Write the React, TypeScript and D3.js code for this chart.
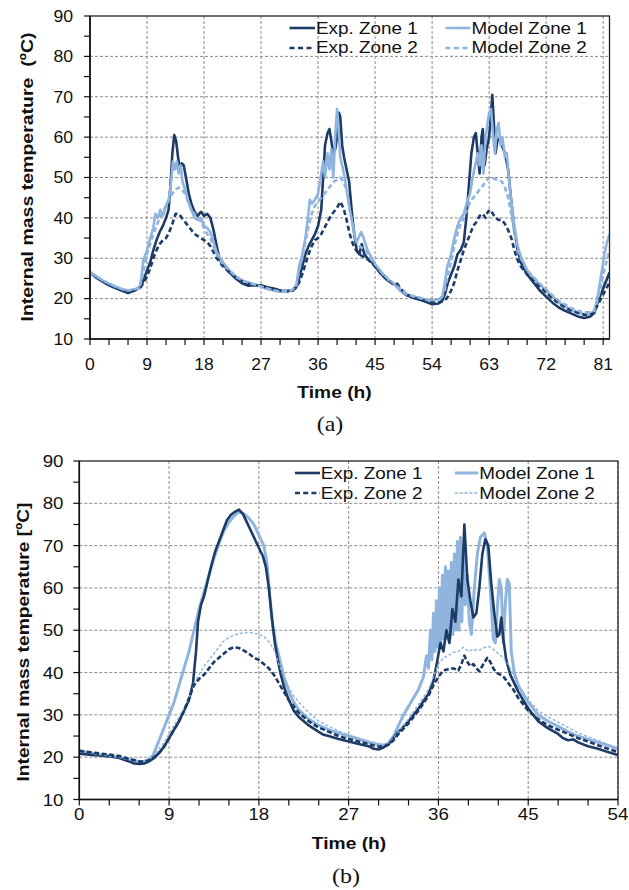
import { useEffect, useRef } from 'react';
import * as d3 from 'd3';

type Pt = [number, number];

// ---------- panel (a): 82 h test ----------
const expZone1A: Pt[] = [
  [0, 26.5], [1, 25.2], [2, 24.2], [3, 23.3], [4, 22.6], [5, 22.0], [6, 21.4], [7, 22.0], [7.8, 22.8], [8.3, 24],
  [9, 27], [9.5, 29], [10, 32], [10.5, 34.5], [11, 36.5], [11.5, 38], [12, 40], [12.4, 42], [12.7, 48], [13, 56],
  [13.3, 60.5], [13.6, 59], [13.9, 55], [14.2, 52], [14.5, 53.5], [14.8, 53], [15.2, 49.5], [15.6, 46], [16, 43.5],
  [16.5, 41.5], [17, 40.5], [17.5, 41.5], [18, 40.5], [18.5, 41], [19, 40], [19.5, 37], [20, 33], [20.5, 29.5],
  [21, 28.5], [22, 26.5], [23, 25], [24, 23.8], [25, 23.2], [26, 23.3], [27, 23.3], [28, 22.8], [29, 22.5], [30, 22],
  [31, 21.8], [32, 22], [32.6, 23], [33, 25], [33.5, 28], [34, 31], [34.5, 33], [35, 34.5], [35.5, 36], [36, 38],
  [36.5, 42], [36.8, 50], [37.1, 58], [37.5, 61], [37.8, 62], [38.1, 59], [38.4, 56], [38.7, 57], [39, 60], [39.3, 66],
  [39.5, 65], [39.8, 58], [40.1, 55], [40.5, 52], [40.9, 49], [41.3, 42], [41.7, 36], [42.1, 32], [42.5, 31],
  [42.9, 33.5], [43.3, 31], [43.8, 30], [44.5, 29], [45, 28], [46, 26], [47, 24.5], [48, 23.5], [48.5, 23.5], [49, 22],
  [50, 20.8], [51, 20.2], [52, 19.8], [53, 19.2], [54, 18.6], [55, 18.8], [55.6, 19.5], [56, 21], [56.5, 24], [57, 26],
  [57.5, 28], [58, 31], [58.5, 32], [59, 34], [59.4, 40], [59.8, 48], [60.2, 56], [60.6, 60], [60.9, 61], [61.2, 56],
  [61.5, 51], [61.8, 60], [62.0, 62], [62.3, 53], [62.6, 57], [63.0, 60], [63.3, 66], [63.5, 70.5], [63.8, 62],
  [64.0, 56], [64.3, 59], [64.7, 60], [65.0, 58], [65.5, 56], [66, 52], [66.5, 44], [67, 37], [67.5, 32], [68, 29],
  [69, 26], [70, 24], [71, 22], [72, 20.5], [73, 19], [74, 17.8], [75, 17], [76, 16.3], [77, 15.6], [78, 15.2],
  [79, 15.6], [79.6, 16.5], [80, 18.5], [80.5, 20.5], [81, 22.5], [81.5, 24.5], [82, 26.5],
];

const modelZone1A: Pt[] = [
  [0, 26.5], [1, 25.5], [2, 24.5], [3, 23.7], [4, 23], [5, 22.4], [6, 22], [7, 22.3], [7.8, 22.5], [8.1, 25],
  [8.4, 29.5], [9, 32], [9.5, 35], [10, 37.5], [10.3, 41], [10.7, 40], [11.1, 42], [11.5, 40.5], [12, 43], [12.5, 45],
  [12.8, 49], [13.1, 54], [13.4, 52], [13.7, 54], [14, 51], [14.3, 53], [14.6, 49], [15, 47], [15.5, 44], [16, 42],
  [16.5, 40], [17, 39.5], [17.5, 40], [18, 38], [18.5, 37.5], [19, 36.5], [19.5, 34], [20, 31.5], [21, 29], [22, 27],
  [23, 25.5], [24, 24.5], [25, 24], [26, 23.5], [27, 23], [28, 22.4], [29, 22], [30, 21.7], [31, 21.8], [32, 22.2],
  [32.6, 23.5], [33, 28], [33.5, 31], [34, 35], [34.4, 40], [34.7, 44.5], [35, 43.5], [35.5, 44.5], [36, 46],
  [36.4, 50], [36.8, 54], [37.1, 50], [37.5, 56], [37.8, 52], [38.1, 57], [38.4, 50], [38.7, 60], [39, 67], [39.2, 63],
  [39.5, 55], [39.8, 53], [40.2, 50], [40.6, 46], [41, 42], [41.5, 38], [42, 34], [42.4, 35], [42.8, 36.5], [43.2, 35],
  [43.8, 32], [44.5, 30], [45, 28.5], [46, 26.5], [47, 24.8], [48, 23.5], [49, 22], [50, 21], [51, 20.6], [52, 20.2],
  [53, 19.8], [54, 19.6], [55, 19.8], [55.6, 20.5], [56, 24], [56.4, 28], [57, 31], [57.5, 35], [58, 38], [58.5, 40],
  [59, 41], [59.5, 44], [60, 46], [60.4, 50], [60.8, 53], [61.2, 56], [61.5, 53], [61.8, 58], [62.1, 51], [62.4, 59],
  [62.7, 63], [63, 66], [63.3, 67], [63.6, 61], [63.9, 56], [64.2, 62], [64.5, 63.5], [64.8, 58], [65.1, 60],
  [65.5, 55], [65.8, 56], [66.1, 50], [66.5, 44], [67, 38], [67.5, 33], [68, 30.5], [69, 27], [70, 25], [71, 23.5],
  [72, 22], [73, 20.5], [74, 19], [75, 18], [76, 17.2], [77, 16.5], [78, 16.2], [79, 16.3], [79.6, 17], [80, 19.5],
  [80.4, 23], [80.8, 27], [81.2, 31], [81.6, 34], [82, 36],
];

const expZone2A: Pt[] = [
  [0, 26.5], [1, 25.3], [2, 24.3], [3, 23.4], [4, 22.7], [5, 22.1], [6, 21.6], [7, 22], [8, 22.8], [8.5, 24],
  [9, 25.5], [9.5, 27.5], [10, 30], [10.5, 32], [11, 33.5], [11.5, 34.5], [12, 35], [12.5, 36.5], [13, 38.5],
  [13.5, 41], [14, 41], [14.5, 40], [15, 39], [15.5, 38], [16, 37], [16.5, 36], [17, 35.5], [17.5, 35], [18, 34.5],
  [18.5, 34], [19, 33], [19.5, 31.5], [20, 30], [21, 28], [22, 26.5], [23, 25.2], [24, 24.3], [25, 23.7], [26, 23.3],
  [27, 23.2], [28, 22.7], [29, 22.3], [30, 22], [31, 21.9], [32, 22], [32.7, 23], [33, 24], [33.5, 26], [34, 28.5],
  [34.5, 31], [35, 33], [35.5, 34.5], [36, 35], [36.5, 36], [37, 37.5], [37.5, 39], [38, 40.5], [38.5, 41.5],
  [39, 42.5], [39.5, 44], [40, 42.5], [40.5, 39.5], [41, 36], [41.5, 33.5], [42, 32], [42.5, 31], [43, 30.5],
  [44, 29.5], [45, 28], [46, 26], [47, 24.5], [48, 23.5], [48.5, 23.7], [49, 22.5], [50, 21], [51, 20.3], [52, 19.8],
  [53, 19.4], [54, 19], [55, 19], [56, 19.5], [56.5, 20.5], [57, 22], [57.5, 24], [58, 27], [58.5, 29.5], [59, 32],
  [59.5, 34], [60, 36], [60.5, 38], [61, 39], [61.5, 40.5], [62, 41], [62.4, 40], [62.8, 41.5], [63.2, 42], [63.6, 41],
  [64, 40], [64.5, 39.5], [65, 39.5], [65.5, 38.5], [66, 37], [66.5, 35], [67, 32], [67.5, 29.5], [68, 28], [69, 26],
  [70, 24.5], [71, 23], [72, 21.5], [73, 20], [74, 18.8], [75, 17.8], [76, 17], [77, 16.5], [78, 16], [79, 16],
  [79.6, 16.5], [80, 18], [80.5, 19.5], [81, 21], [81.5, 22.5], [82, 24],
];

const modelZone2A: Pt[] = [
  [0, 26.5], [1, 25.5], [2, 24.5], [3, 23.7], [4, 23], [5, 22.4], [6, 22], [7, 22.3], [7.8, 22.6], [8.2, 25],
  [8.6, 28], [9, 31], [9.5, 33.5], [10, 36], [10.5, 38], [11, 40], [11.5, 41.5], [12, 43], [12.5, 44.5], [13, 46],
  [13.5, 47], [14, 47.5], [14.5, 47], [15, 46], [15.5, 44], [16, 42], [16.5, 41], [17, 40], [17.5, 39], [18, 37.5],
  [18.5, 36], [19, 35], [19.5, 33], [20, 31], [21, 28.5], [22, 27], [23, 25.5], [24, 24.5], [25, 24], [26, 23.5],
  [27, 23], [28, 22.5], [29, 22], [30, 21.8], [31, 21.8], [32, 22.2], [32.6, 23.5], [33, 27], [33.5, 30], [34, 34],
  [34.5, 38], [35, 41], [35.5, 43], [36, 44], [36.5, 45], [37, 46], [37.5, 47], [38, 48], [38.5, 49], [39, 49.5],
  [39.5, 50], [40, 49], [40.5, 47], [41, 42], [41.5, 38], [42, 34.5], [42.5, 33], [43, 32.5], [43.5, 32], [44, 30.5],
  [45, 28.5], [46, 26.5], [47, 25], [48, 23.7], [49, 22.3], [50, 21.2], [51, 20.6], [52, 20.2], [53, 19.8], [54, 19.6],
  [55, 19.8], [55.6, 20.5], [56, 22], [56.5, 26], [57, 29], [57.5, 33], [58, 36], [58.5, 38.5], [59, 40], [59.5, 42],
  [60, 44], [60.5, 45], [61, 46], [61.5, 47], [62, 48], [62.5, 49], [63, 50], [63.5, 50], [64, 49.5], [64.5, 49.5],
  [65, 49], [65.5, 47.5], [66, 45], [66.5, 41], [67, 36], [67.5, 32], [68, 30], [69, 27], [70, 25.3], [71, 23.7],
  [72, 22.3], [73, 20.8], [74, 19.5], [75, 18.5], [76, 17.6], [77, 17], [78, 16.6], [79, 16.6], [79.6, 17], [80, 19],
  [80.5, 22], [81, 26], [81.5, 29], [82, 32],
];

// ---------- panel (b): 54 h test ----------
const expZone1B: Pt[] = [
  [0, 20.8], [1, 20.6], [2, 20.4], [3, 20.2], [4, 19.8], [5, 19], [5.5, 18.5], [6, 18.4], [6.5, 18.5], [7, 19],
  [7.5, 19.8], [8, 21], [8.5, 22.5], [9, 24.5], [9.5, 26.5], [10, 28.5], [10.5, 31], [11, 33.5], [11.4, 37.5],
  [11.7, 45], [11.9, 52], [12.2, 56], [12.5, 58], [12.8, 61], [13.2, 65], [13.6, 68.5], [14, 71], [14.4, 73.5],
  [14.8, 76], [15.2, 77.3], [15.6, 78], [16, 78.5], [16.4, 77.5], [16.8, 75.5], [17.2, 73.5], [17.6, 71.5], [18, 69.5],
  [18.4, 67.5], [18.7, 65], [19, 60], [19.3, 53], [19.6, 47], [19.9, 43], [20.2, 39.5], [20.6, 36], [21, 33.5],
  [21.5, 31], [22, 29.5], [22.5, 28.5], [23, 27.5], [24, 26], [24.5, 25.3], [25, 25], [26, 24.3], [27, 23.7],
  [28, 23.1], [29, 22.6], [29.5, 22], [30, 21.8], [30.5, 22.3], [31, 23], [31.5, 24.5], [32, 26], [33, 28.5],
  [34, 31.5], [35, 35], [35.5, 38], [35.9, 43], [36.2, 47], [36.5, 45], [36.8, 50], [37.1, 47], [37.4, 55], [37.7, 52],
  [38, 62], [38.3, 58], [38.6, 75], [38.9, 62], [39.2, 57], [39.5, 53], [39.8, 54], [40.1, 60], [40.4, 68],
  [40.7, 71.5], [41, 70], [41.3, 61], [41.6, 54], [41.9, 48.5], [42.1, 49], [42.3, 53], [42.5, 48], [42.8, 43],
  [43.2, 39.5], [43.6, 37.5], [44, 35.5], [44.5, 33.5], [45, 31.5], [45.5, 30], [46, 28.5], [47, 26.8], [48, 25.5],
  [48.5, 24.5], [49, 24], [49.5, 24.2], [50, 23.5], [51, 22.6], [52, 22], [53, 21.2], [54, 20.5],
];

const modelZone1B: Pt[] = [
  [0, 21.5], [1, 21], [2, 20.6], [3, 20.2], [4, 19.9], [5, 19.4], [6, 19], [6.5, 19], [7, 19.5], [7.4, 20.5], [8, 24],
  [8.5, 27], [9, 30], [9.5, 33], [10, 37], [10.5, 41], [11, 45], [11.5, 50], [12, 55], [12.5, 59], [13, 63], [13.5, 67],
  [14, 70.5], [14.5, 73.5], [15, 75.5], [15.5, 77], [16, 78], [16.5, 77.5], [17, 76.5], [17.5, 75], [18, 72.5],
  [18.5, 70], [18.8, 66], [19.1, 58], [19.4, 51], [19.7, 47], [20, 44], [20.5, 39], [21, 35.5], [21.5, 33], [22, 31.2],
  [23, 29], [24, 27.5], [25, 26.5], [26, 25.7], [27, 25], [28, 24.3], [29, 23.5], [30, 23], [30.5, 22.8], [31, 23.3],
  [31.5, 25], [32, 27.5], [32.5, 30], [33, 32], [33.5, 34], [34, 36], [34.5, 39], [34.8, 44], [35, 41], [35.2, 50],
  [35.35, 43], [35.5, 54], [35.65, 45], [35.8, 57], [35.95, 46], [36.1, 60], [36.25, 47], [36.4, 63], [36.55, 48],
  [36.7, 65], [36.85, 48], [37, 64], [37.15, 48], [37.3, 66], [37.45, 49], [37.6, 68], [37.75, 50], [37.9, 71],
  [38.05, 50], [38.2, 72], [38.35, 52], [38.5, 68], [38.7, 56], [38.9, 63], [39.1, 52], [39.3, 49], [39.6, 60],
  [39.9, 68], [40.2, 72], [40.6, 73], [40.9, 70], [41.2, 60], [41.5, 48], [41.7, 47], [41.9, 55], [42.1, 62],
  [42.3, 60], [42.5, 47], [42.7, 56], [42.9, 62], [43.1, 61], [43.3, 45], [43.6, 40], [44, 37], [44.5, 35], [45, 33],
  [45.5, 31.5], [46, 30], [47, 28.5], [48, 27.3], [49, 26], [50, 25], [51, 24.2], [52, 23.5], [53, 22.8], [54, 22],
];

const expZone2B: Pt[] = [
  [0, 21.5], [1, 21.2], [2, 20.9], [3, 20.6], [4, 20.3], [5, 19.6], [6, 19], [6.5, 18.9], [7, 19.3], [7.5, 20], [8, 21],
  [8.5, 22.5], [9, 24.5], [9.5, 26.5], [10, 28.5], [10.5, 31], [11, 34], [11.5, 37], [12, 38.5], [12.5, 39.5], [13, 41],
  [13.5, 42.5], [14, 43.5], [14.5, 44.5], [15, 45.5], [15.5, 46], [16, 45.8], [16.5, 45.2], [17, 44.5], [17.5, 43.5],
  [18, 43], [18.5, 42], [19, 41], [19.5, 39.5], [20, 37.5], [20.5, 35.5], [21, 33.5], [21.5, 32], [22, 30.5], [23, 28.5],
  [24, 27], [25, 26], [26, 25], [27, 24.3], [28, 23.7], [29, 23.1], [30, 22.5], [30.5, 22.5], [31, 23], [31.5, 24],
  [32, 25.5], [33, 28], [34, 31], [35, 34.5], [35.5, 37], [36, 39], [36.5, 40.5], [37, 40.8], [37.5, 41], [38, 40.5],
  [38.3, 42], [38.6, 44], [38.9, 42.5], [39.2, 41.5], [39.5, 42], [39.8, 41], [40.1, 40.3], [40.5, 42], [40.9, 43.5],
  [41.2, 42.5], [41.5, 41], [41.8, 40], [42.2, 39.5], [42.6, 38.8], [43, 37.5], [43.5, 36], [44, 34], [44.5, 32.5],
  [45, 31], [46, 29], [47, 27.5], [48, 26.5], [49, 25.5], [50, 24.5], [51, 23.7], [52, 22.8], [53, 22], [54, 21.2],
];

const modelZone2B: Pt[] = [
  [0, 21.5], [1, 21], [2, 20.6], [3, 20.2], [4, 19.9], [5, 19.4], [6, 19], [6.5, 19], [7, 19.6], [7.5, 20.5], [8, 22],
  [8.5, 23.5], [9, 25.5], [9.5, 27.5], [10, 29.5], [10.5, 31.5], [11, 34], [11.5, 37.5], [12, 39.5], [12.5, 41.5],
  [13, 43], [13.5, 44.5], [14, 46], [14.5, 47.5], [15, 48.3], [15.5, 48.8], [16, 49.2], [16.5, 49.4], [17, 49.5],
  [17.5, 49.3], [18, 49], [18.5, 48.5], [19, 47.3], [19.5, 45.5], [20, 42], [20.5, 39], [21, 36.5], [21.5, 34.5],
  [22, 33], [23, 30.5], [24, 28.5], [25, 27.3], [26, 26.2], [27, 25.3], [28, 24.5], [29, 23.8], [30, 23.2], [30.5, 23],
  [31, 23.3], [31.5, 24.5], [32, 26], [33, 29], [34, 32.5], [35, 36], [35.5, 39], [36, 42], [36.5, 43.5], [37, 44],
  [37.5, 44.8], [38, 45], [38.5, 46], [39, 45], [39.5, 45.5], [40, 45.2], [40.5, 45.8], [41, 46.2], [41.5, 45.5],
  [42, 44.5], [42.5, 43.5], [43, 42], [43.5, 39.5], [44, 37], [44.5, 35], [45, 33.5], [46, 31], [47, 29.5], [48, 28.3],
  [49, 27], [50, 25.8], [51, 24.8], [52, 24], [53, 23], [54, 22.2],
];

const yTicks = [10, 20, 30, 40, 50, 60, 70, 80, 90];
const xTicksA = [0, 9, 18, 27, 36, 45, 54, 63, 72, 81];
const xTicksB = [0, 9, 18, 27, 36, 45, 54];
const legendNames = ['Exp. Zone 1', 'Exp. Zone 2', 'Model Zone 1', 'Model Zone 2'];

const DARK = '#1c3b66';
const LIGHT = '#8fb4de';
const SANS = 'Arial, "Liberation Sans", Helvetica, sans-serif';
const SERIF = '"Times New Roman", "Liberation Serif", Times, serif';

function addText(g, x, y, str, opts: any = {}) {
  const { size = 16, anchor = 'start', weight = 'normal', family = SANS, sx = 1.15 } = opts;
  return g.append('text')
    .attr('transform', `translate(${x},${y}) scale(${sx},1)`)
    .attr('text-anchor', anchor)
    .style('font-family', family)
    .attr('font-size', size)
    .attr('font-weight', weight)
    .attr('fill', '#111')
    .text(str);
}

function drawPanel(svg, p) {
  const x = d3.scaleLinear().domain(p.xDomain).range([p.left, p.right]);
  const y = d3.scaleLinear().domain([10, 90]).range([p.bottom, p.top]);
  const g = svg.append('g');

  // grid
  g.selectAll('line.vg')
    .data(p.xTicks.filter(t => t > 0))
    .join('line')
    .attr('x1', d => x(d)).attr('x2', d => x(d))
    .attr('y1', p.top).attr('y2', p.bottom)
    .attr('stroke', '#8a8a8a').attr('stroke-width', 1).attr('stroke-dasharray', '3,2');
  g.selectAll('line.hg')
    .data(yTicks.filter(t => t > 10 && t < 90))
    .join('line')
    .attr('x1', p.left).attr('x2', p.right)
    .attr('y1', d => y(d)).attr('y2', d => y(d))
    .attr('stroke', '#8a8a8a').attr('stroke-width', 1).attr('stroke-dasharray', '3,2');

  // series
  const clipId = 'clip-' + p.id;
  svg.append('clipPath').attr('id', clipId)
    .append('rect').attr('x', p.left).attr('y', p.top)
    .attr('width', p.right - p.left).attr('height', p.bottom - p.top);
  const line = d3.line<Pt>().x(d => x(d[0])).y(d => y(d[1]));
  const lines = g.append('g').attr('clip-path', `url(#${clipId})`);
  p.series.forEach(s => {
    lines.append('path')
      .attr('d', line(s.data))
      .attr('fill', 'none')
      .attr('stroke', s.color)
      .attr('stroke-width', s.width)
      .attr('stroke-dasharray', s.dash || null)
      .attr('stroke-linejoin', 'round');
  });

  // frame + axes
  g.append('rect')
    .attr('x', p.left).attr('y', p.top)
    .attr('width', p.right - p.left).attr('height', p.bottom - p.top)
    .attr('fill', 'none').attr('stroke', '#222').attr('stroke-width', 1.3);
  g.append('line').attr('x1', p.left).attr('x2', p.left).attr('y1', p.top).attr('y2', p.bottom)
    .attr('stroke', '#111').attr('stroke-width', 1.6);
  g.append('line').attr('x1', p.left).attr('x2', p.right).attr('y1', p.bottom).attr('y2', p.bottom)
    .attr('stroke', '#111').attr('stroke-width', 1.6);

  // ticks
  g.selectAll('line.yt')
    .data(d3.range(10, 90.1, 5))
    .join('line')
    .attr('x1', p.left - 6).attr('x2', p.left)
    .attr('y1', d => y(d)).attr('y2', d => y(d))
    .attr('stroke', '#111').attr('stroke-width', 1.2);
  g.selectAll('line.xt')
    .data(d3.range(0, p.xDomain[1] + 0.01, 3))
    .join('line')
    .attr('x1', d => x(d)).attr('x2', d => x(d))
    .attr('y1', p.bottom).attr('y2', p.bottom + 6)
    .attr('stroke', '#111').attr('stroke-width', 1.2);

  // tick labels
  yTicks.forEach(v => addText(g, p.yLabelX, y(v) + p.tickSize * 0.36, String(v),
    { size: p.tickSize, anchor: 'end', sx: 1.1 }));
  p.xTicks.forEach(t => addText(g, x(t), p.xLabelY, String(t),
    { size: p.tickSize, anchor: 'middle', sx: 1.1 }));

  // axis titles
  addText(g, p.timeX, p.timeY, 'Time (h)', { size: 16, anchor: 'middle', weight: 'bold', sx: 1.2 });
  addText(g, p.capX, p.capY, p.caption, { size: 20, anchor: 'middle', family: SERIF, sx: 1.2 });
  g.append('text')
    .attr('transform', `translate(${p.yTitleX},${p.yTitleY}) rotate(-90)`)
    .attr('text-anchor', 'middle')
    .style('font-family', SANS)
    .attr('font-size', 17)
    .attr('font-weight', 'bold')
    .attr('fill', '#111')
    .attr('textLength', p.yTitleLen)
    .attr('lengthAdjust', 'spacingAndGlyphs')
    .style('white-space', 'pre')
    .text(p.yTitle);

  // legend
  const lg = p.legend;
  const items = [
    { s: p.series.find(s => s.name === legendNames[0]), x0: lg.ex0, x1: lg.ex1, tx: lg.etx, ly: lg.ly1, ty: lg.ty1 },
    { s: p.series.find(s => s.name === legendNames[1]), x0: lg.ex0, x1: lg.ex1, tx: lg.etx, ly: lg.ly2, ty: lg.ty2 },
    { s: p.series.find(s => s.name === legendNames[2]), x0: lg.mx0, x1: lg.mx1, tx: lg.mtx, ly: lg.ly1, ty: lg.ty1 },
    { s: p.series.find(s => s.name === legendNames[3]), x0: lg.mx0, x1: lg.mx1, tx: lg.mtx, ly: lg.ly2, ty: lg.ty2 },
  ];
  items.forEach(it => {
    g.append('line')
      .attr('x1', it.x0).attr('x2', it.x1).attr('y1', it.ly).attr('y2', it.ly)
      .attr('stroke', it.s.color).attr('stroke-width', it.s.width)
      .attr('stroke-dasharray', it.s.legendDash || it.s.dash || null);
    addText(g, it.tx, it.ty, it.s.name, { size: 16, sx: 1.18 });
  });
}

export default function App() {
  const ref = useRef<SVGSVGElement>(null);

  useEffect(() => {
    const svg = d3.select(ref.current);
    svg.selectAll('*').remove();

    drawPanel(svg, {
      id: 'a',
      left: 90, right: 609.5, top: 16, bottom: 339,
      xDomain: [0, 82], xTicks: xTicksA,
      tickSize: 16, yLabelX: 73, xLabelY: 369.5,
      timeX: 334.5, timeY: 398, capX: 330, capY: 431, caption: '(a)',
      yTitle: 'Internal mass temperature  (ºC)', yTitleX: 33, yTitleY: 177, yTitleLen: 289,
      series: [
        { name: 'Exp. Zone 1', data: expZone1A, color: DARK, width: 2.6 },
        { name: 'Model Zone 1', data: modelZone1A, color: LIGHT, width: 2.6 },
        { name: 'Exp. Zone 2', data: expZone2A, color: DARK, width: 2.6, dash: '5,3', legendDash: '5,3.5' },
        { name: 'Model Zone 2', data: modelZone2A, color: LIGHT, width: 2.6, dash: '5,3', legendDash: '5,3.5' },
      ],
      legend: { ex0: 289.5, ex1: 315, etx: 316, mx0: 445.5, mx1: 470.5, mtx: 471.5, ly1: 28, ly2: 48, ty1: 33.5, ty2: 53 },
    });

    drawPanel(svg, {
      id: 'b',
      left: 79.3, right: 618, top: 461, bottom: 799.5,
      xDomain: [0, 54], xTicks: xTicksB,
      tickSize: 17, yLabelX: 63.5, xLabelY: 820,
      timeX: 349, timeY: 849, capX: 346, capY: 883, caption: '(b)',
      yTitle: 'Internal mass temperature [ºC]', yTitleX: 28.5, yTitleY: 642, yTitleLen: 279,
      series: [
        { name: 'Model Zone 1', data: modelZone1B, color: LIGHT, width: 3 },
        { name: 'Exp. Zone 1', data: expZone1B, color: DARK, width: 2.6 },
        { name: 'Model Zone 2', data: modelZone2B, color: LIGHT, width: 1.4, dash: '3,2', legendDash: '3,1.8' },
        { name: 'Exp. Zone 2', data: expZone2B, color: DARK, width: 2.6, dash: '5,2.5', legendDash: '5,3.2' },
      ],
      legend: { ex0: 295, ex1: 320, etx: 320.7, mx0: 455, mx1: 478.3, mtx: 479.3, ly1: 473, ly2: 493, ty1: 479, ty2: 499 },
    });
  }, []);

  return (
    <svg
      ref={ref}
      width={629}
      height={890}
      style={{ position: 'absolute', left: 0, top: 0, background: '#fff' }}
    />
  );
}
